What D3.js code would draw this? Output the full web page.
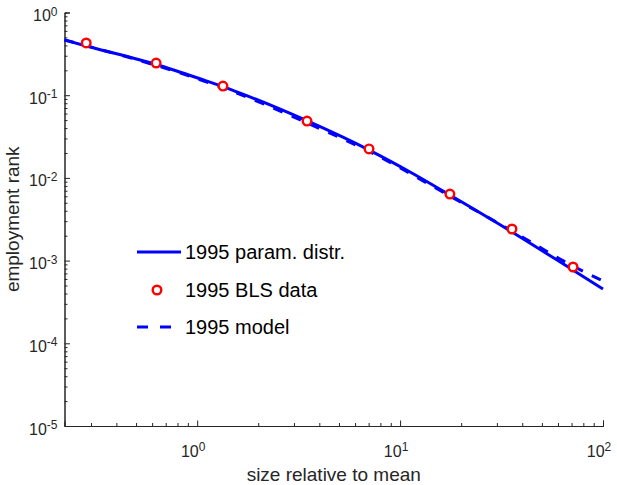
<!DOCTYPE html>
<html>
  <head>
    <meta charset="UTF-8" />
    <script src="https://cdnjs.cloudflare.com/ajax/libs/d3/7.8.5/d3.min.js"></script>
    <style>
      body { margin: 0; background: #fff; }
      text { font-family: "Liberation Sans", Arial, sans-serif; fill: #262626; }
    </style>
  </head>
  <body>
    <svg id="chart" width="617" height="485"></svg>
    <script>
      // values
      const paramX = [0.222, 0.284, 0.64, 1.04, 1.35, 1.63, 3.49, 7.04, 11.2, 17.6, 35.6, 71, 100];
      const paramY = [0.465, 0.394, 0.232, 0.157, 0.126, 0.106, 0.0488, 0.0217, 0.0118, 0.00621, 0.00222, 0.00077, 0.000454];

      const modelX = [0.222, 0.64, 1.35, 3.49, 7.04, 17.6, 35.6, 71, 100];
      const modelY = [0.465, 0.2256, 0.1222, 0.0461, 0.02085, 0.00604, 0.00228, 0.00086, 0.000566];

      const blsX = [0.284, 0.628, 1.34, 3.48, 7.03, 17.6, 35.6, 71.2];
      const blsY = [0.428, 0.245, 0.129, 0.0487, 0.0224, 0.00638, 0.00241, 0.000837];

      const xMajor = [0, 1, 2];
      const yMajor = [0, -1, -2, -3, -4, -5];

      const legendLabels = ["1995 param. distr.", "1995 BLS data", "1995 model"];

      const svg = d3.select("#chart");
      const mLeft = 64.5, mRight = 603, mTop = 12.5, mBottom = 426;

      const x = d3.scaleLog().domain([0.222, 100]).range([mLeft, mRight]);
      const y = d3.scaleLog().domain([1e-5, 1]).range([mBottom, mTop]);

      const axisColor = "#262626";

      // minor ticks
      const xMinor = [];
      [0.1, 1, 10].forEach(d => {
        for (let k = 2; k <= 9; k++) {
          const v = d * k;
          if (v >= 0.222 && v <= 100) xMinor.push(v);
        }
      });
      const yMinor = [];
      [1e-5, 1e-4, 1e-3, 1e-2, 1e-1].forEach(d => {
        for (let k = 2; k <= 9; k++) yMinor.push(d * k);
      });

      const xAxisG = svg.append("g").attr("transform", `translate(0,${mBottom})`);
      xAxisG.call(d3.axisBottom(x).tickValues(xMinor).tickSize(-3).tickFormat(""));
      xAxisG.append("g").call(d3.axisBottom(x).tickValues(xMajor.map(e => Math.pow(10, e))).tickSize(-5.5).tickFormat(""));

      const yAxisG = svg.append("g").attr("transform", `translate(${mLeft},0)`);
      yAxisG.call(d3.axisLeft(y).tickValues(yMinor).tickSize(-3).tickFormat(""));
      yAxisG.append("g").call(d3.axisLeft(y).tickValues(yMajor.map(e => Math.pow(10, e))).tickSize(-5.5).tickFormat(""));

      svg.selectAll(".domain").attr("stroke", axisColor);
      svg.selectAll(".tick line").attr("stroke", axisColor);
      // keep only one domain per axis
      xAxisG.select("g").select(".domain").remove();
      yAxisG.select("g").select(".domain").remove();

      // tick labels
      const xl = svg.append("g").selectAll("text").data(xMajor).enter().append("text")
        .attr("x", d => x(Math.pow(10, d)) - 4)
        .attr("y", mBottom + 31)
        .attr("text-anchor", "middle")
        .style("font-size", "16px");
      xl.append("tspan").text("10");
      xl.append("tspan").attr("dy", -6).style("font-size", "12px").text(d => d);

      const yl = svg.append("g").selectAll("text").data(yMajor).enter().append("text")
        .attr("x", mLeft - 7)
        .attr("y", d => y(Math.pow(10, d)) + 8.5)
        .attr("text-anchor", "end")
        .style("font-size", "16px");
      yl.append("tspan").text("10");
      yl.append("tspan").attr("dy", -5.5).style("font-size", "12px").text(d => d);

      // axis titles
      svg.append("text")
        .attr("x", (mLeft + mRight) / 2)
        .attr("y", 481)
        .attr("text-anchor", "middle")
        .style("font-size", "19px")
        .text("size relative to mean");

      svg.append("text")
        .attr("transform", `translate(19,${(mTop + mBottom) / 2}) rotate(-90)`)
        .attr("text-anchor", "middle")
        .style("font-size", "19px")
        .text("employment rank");

      // lines
      const line = d3.line()
        .x(d => x(d[0]))
        .y(d => y(d[1]))
        .curve(d3.curveMonotoneX);

      svg.append("path")
        .datum(paramX.map((v, i) => [v, paramY[i]]))
        .attr("d", line)
        .attr("fill", "none")
        .attr("stroke", "#0000ff")
        .attr("stroke-width", 3);

      svg.append("path")
        .datum(modelX.map((v, i) => [v, modelY[i]]))
        .attr("d", line)
        .attr("fill", "none")
        .attr("stroke", "#0000ff")
        .attr("stroke-width", 3)
        .attr("stroke-dasharray", "10,10");

      svg.append("g").selectAll("circle")
        .data(blsX.map((v, i) => [v, blsY[i]]))
        .enter().append("circle")
        .attr("cx", d => x(d[0]))
        .attr("cy", d => y(d[1]))
        .attr("r", 4.3)
        .attr("fill", "#fff")
        .attr("stroke", "#ff0000")
        .attr("stroke-width", 2.4);

      // legend
      const lg = svg.append("g");
      const rows = [252, 290, 327];
      lg.append("line").attr("x1", 137).attr("x2", 181).attr("y1", rows[0]).attr("y2", rows[0])
        .attr("stroke", "#0000ff").attr("stroke-width", 3);
      lg.append("circle").attr("cx", 157).attr("cy", rows[1]).attr("r", 4.3)
        .attr("fill", "#fff").attr("stroke", "#ff0000").attr("stroke-width", 2.4);
      lg.append("line").attr("x1", 137).attr("x2", 171).attr("y1", rows[2]).attr("y2", rows[2])
        .attr("stroke", "#0000ff").attr("stroke-width", 3).attr("stroke-dasharray", "11,12");
      lg.selectAll("text").data(legendLabels).enter().append("text")
        .attr("x", 185)
        .attr("y", (d, i) => rows[i] + 7)
        .style("font-size", "20px")
        .style("fill", "#000")
        .text(d => d);
    </script>
  </body>
</html>
